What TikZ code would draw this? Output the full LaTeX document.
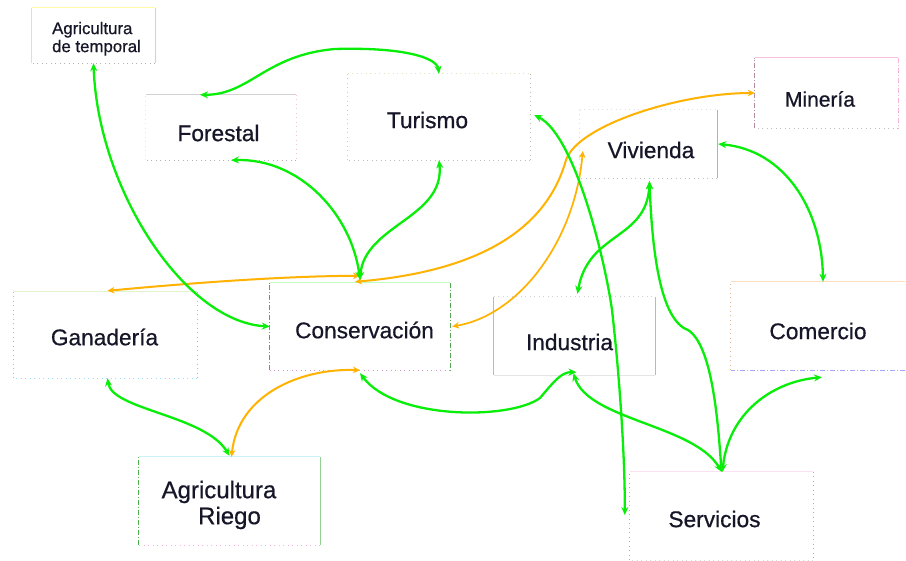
\documentclass[tikz,border=0pt]{standalone}
\usepackage{fontspec}
\setmainfont{Liberation Sans}[FakeBold=0.6]
\usetikzlibrary{arrows.meta,calc}
\definecolor{cgreen}{RGB}{8,238,8}
\definecolor{corange}{RGB}{255,178,0}
\definecolor{ctext}{RGB}{22,22,40}
\definecolor{cmauve}{RGB}{180,140,160}
\newcommand\boxedges[5]{%
  \draw[#2] (#1.north west) -- (#1.north east);
  \draw[#3] (#1.north east) -- (#1.south east);
  \draw[#4] (#1.south east) -- (#1.south west);
  \draw[#5] (#1.south west) -- (#1.north west);}
% text offset inside a box: dx, dy (down), content
\newcommand\tx[3]{\raisebox{-#2}[\height][\depth]{\hspace*{#1}#3\hspace*{-#1}}}
\tikzset{
  box/.style={inner sep=0pt, text=ctext, font=\fontsize{22.7}{25}\selectfont},
  gl/.style={draw=cgreen, line width=2.3pt, {Stealth[length=8pt,width=7pt]}-{Stealth[length=8pt,width=7pt]}},
  ol/.style={draw=corange, line width=2pt, {Stealth[length=7pt,width=6.5pt]}-{Stealth[length=7pt,width=6.5pt]}},
  eDot/.style={draw=#1, line width=0.9pt, dash pattern=on 1pt off 3.5pt},
  eDot/.default={gray!60},
  eSol/.style={draw=#1, line width=0.8pt},
  eSol/.default={gray!30},
  eDD/.style={draw=#1, line width=0.9pt, dash pattern=on 5pt off 2pt on 1pt off 2pt},
  eDD/.default={gray!60}
}
\begin{document}
\begin{tikzpicture}[x=1pt,y=-1pt]
\fill[white] (0,0) rectangle (906,561);
\useasboundingbox (0,0) rectangle (906,561);

% nodes
\node[box, minimum width=123pt, minimum height=55pt, font=\fontsize{16.8}{18}\selectfont] (agt) at (93.5,35.5)
  {\tx{3pt}{4pt}{\begin{tabular}{@{}l@{}}Agricultura\\de temporal\end{tabular}}};
\node[box, minimum width=150pt, minimum height=65pt] (for) at (221,127.5) {\tx{-2.5pt}{5.5pt}{Forestal}};
\node[box, minimum width=182pt, minimum height=86pt] (tur) at (439,117) {\tx{-11.5pt}{3pt}{Turismo}};
\node[box, minimum width=143pt, minimum height=70pt, font=\fontsize{21}{23}\selectfont] (min) at (826.5,93) {\tx{-6.5pt}{6pt}{Minería}};
\node[box, minimum width=137pt, minimum height=68pt] (viv) at (648.5,144) {\tx{2.5pt}{6pt}{Vivienda}};
\node[box, minimum width=183pt, minimum height=86pt] (gan) at (105.5,335) {\tx{-1pt}{2pt}{Ganadería}};
\node[box, minimum width=180pt, minimum height=87pt] (con) at (360,326.5) {\tx{4.5pt}{3.5pt}{Conservación}};
\node[box, minimum width=161pt, minimum height=78pt] (ind) at (574.5,336) {\tx{-5pt}{6pt}{Industria}};
\node[box, minimum width=174pt, minimum height=88pt] (com) at (818,326) {\tx{0pt}{5pt}{Comercio}};
\node[box, minimum width=181pt, minimum height=88pt, font=\fontsize{24}{26}\selectfont] (agr) at (229.5,501)
  {\tx{0pt}{5pt}{\begin{tabular}{@{}c@{}}Agricultura\hspace*{21pt}\\Riego\end{tabular}}};
\node[box, minimum width=183pt, minimum height=88pt] (ser) at (721.5,516) {\tx{-7pt}{3pt}{Servicios}};

% box borders
\boxedges{agt}{eSol=yellow!35}{eSol=blue!20}{eDot=gray!60}{eSol=blue!15}
\boxedges{for}{eSol=gray!35}{eDot=magenta!25}{eDot=gray!60}{eDot=magenta!15}
\boxedges{tur}{eDot=yellow!40!gray!40}{eDot=gray!50}{eDot=gray!50}{eDot=gray!40}
\boxedges{min}{eSol=magenta!25}{eDD=magenta!30}{eDot=gray!50}{eDD=cmauve}
\boxedges{viv}{eDot=gray!25}{eSol=gray!60}{eDot=gray!50}{eDot=gray!25}
\boxedges{gan}{eSol=yellow!40!green!20}{eDot=brown!60}{eDot=cyan!40}{eDot=brown!60}
\boxedges{con}{eSol=green!25}{eDD=gray!70!green}{eDot=violet!40}{eDD=gray!70!green}
\boxedges{ind}{eDot=gray!35}{eSol=gray!55}{eSol=gray!20}{eSol=gray!55}
\boxedges{com}{eSol=orange!25}{draw=none}{eDD=blue!35}{eDot=brown!55}
\boxedges{agr}{eSol=cyan!20}{eSol=gray!60!green!60}{eDot=magenta!30}{eDD=gray!60!green}
\boxedges{ser}{eSol=magenta!12}{eDot=violet!40}{eDot=gray!30}{eDot=violet!40}

% orange connectors
\draw[ol] ($(gan.north)+(2,-1)$) .. controls (180,284) and (280,276) .. ($(con.north)+(0,-7)$);
\draw[ol] ($(con.north)+(-5,-1)$) .. controls (470,272) and (545,235) .. (566,160) .. controls (578,125) and (680,93) .. (min.west);
\draw[ol, line width=1.7pt] ($(con.east)+(2,0)$) .. controls (520,315) and (575,240) .. ($(viv.west)+(3,7)$);
\draw[ol] (con.south) .. controls (300,368) and (238,395) .. ($(agr.north)+(2,0)$);

% green connectors
\draw[gl] ($(for.north)+(-21,0)$) .. controls (250,95) and (265,55) .. (335,49) .. controls (405,47) and (437,58) .. (tur.north);
\draw[gl] (agt.south) .. controls (98,190) and (185,322) .. (con.west);
\draw[gl] ($(for.south)+(10,0)$) .. controls (300,158) and (352,215) .. ($(con.north)+(0,-3)$);
\draw[gl] ($(con.north)+(0,-3)$) .. controls (364,225) and (445,218) .. (tur.south);
\draw[gl] ($(gan.south)+(2,0)$) .. controls (112,410) and (205,415) .. ($(agr.north)+(0,-1)$);
\draw[gl] ($(con.south)+(0,3)$) .. controls (395,420) and (510,420) .. (540,398) .. controls (555,380) and (562,372) .. ($(ind.south)+(2,-3)$);
\draw[gl] ($(ind.south)+(-1,-2)$) .. controls (588,420) and (695,425) .. (ser.north);
\draw[gl] ($(tur.east)+(4,-2)$) .. controls (575,135) and (605,260) .. (612,310) .. controls (620,380) and (625,460) .. ($(ser.west)+(-5,-1)$);
\draw[gl] ($(viv.south)+(1,3)$) .. controls (647,240) and (588,232) .. ($(ind.north)+(3,-3)$);
\draw[gl] ($(viv.south)+(1,3)$) .. controls (652,250) and (660,320) .. (688,330) .. controls (712,345) and (718,420) .. (ser.north);
\draw[gl] ($(ser.north)+(1,0)$) .. controls (728,415) and (770,382) .. ($(com.south)+(4,7)$);
\draw[gl] ($(viv.east)+(1,0)$) .. controls (785,150) and (822,210) .. ($(com.north)+(5,0)$);
\end{tikzpicture}
\end{document}
